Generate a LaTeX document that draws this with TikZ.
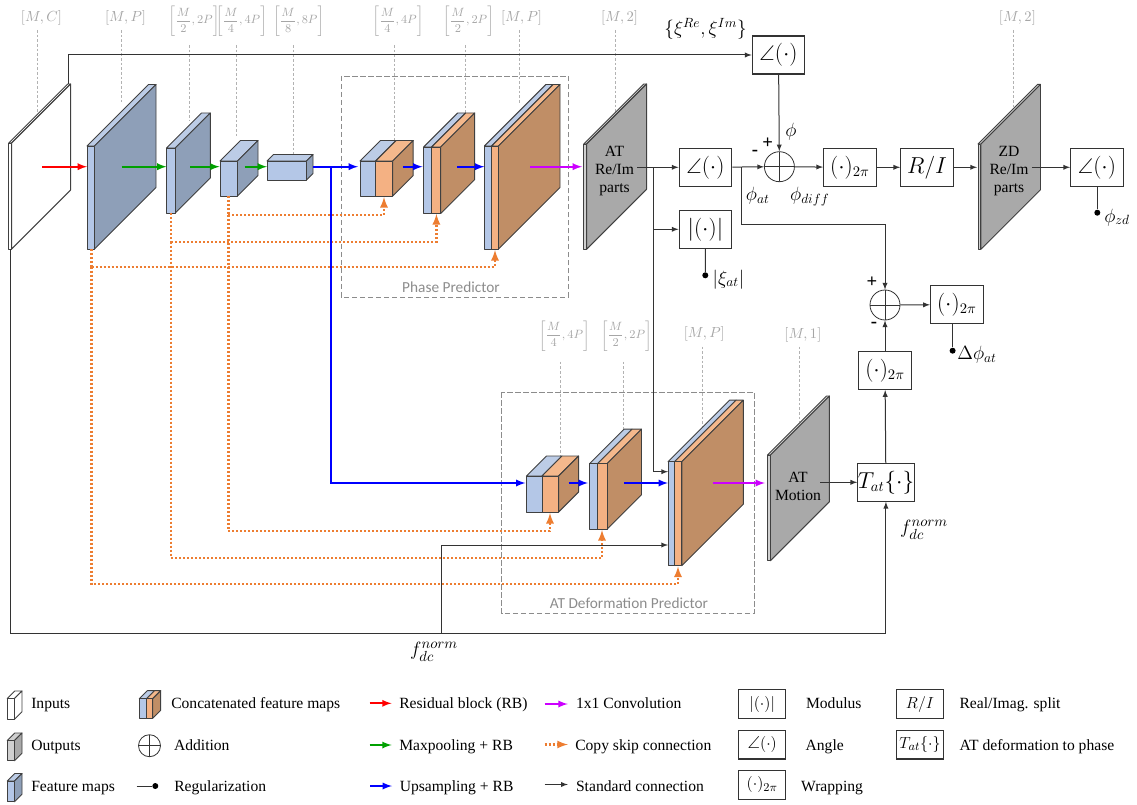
\documentclass[tikz,border=0pt]{standalone}
\usepackage{amsfonts, amssymb, amsmath}
\usepackage{fontspec}
\setmainfont{Liberation Serif}
\newfontfamily\labelfont{Carlito}
\usepackage{tikz}

\definecolor{wiFront}{HTML}{FFFFFF}
\definecolor{wiTop}{HTML}{FFFFFF}
\definecolor{wiSide}{HTML}{FFFFFF}
\definecolor{grFront}{HTML}{D0D0D0}
\definecolor{grTop}{HTML}{D0D0D0}
\definecolor{grSide}{HTML}{A9A9A9}
\definecolor{blFront}{HTML}{B4C7E7}
\definecolor{blTop}{HTML}{BCCCE6}
\definecolor{blSide}{HTML}{8E9FB8}
\definecolor{orFront}{HTML}{F4B183}
\definecolor{orTop}{HTML}{F4B88C}
\definecolor{orSide}{HTML}{C08E66}
\definecolor{skipOrange}{HTML}{ED7D31}
\definecolor{convMagenta}{HTML}{CC00FF}
\definecolor{poolGreen}{HTML}{00A000}

\tikzset{
    mapline/.style={draw=black!75, line width=0.7pt, line join=round},
    leader/.style={draw=black!30, line width=0.5pt, dash pattern=on 2pt off 1.5pt},
    frame/.style={draw=black!45, line width=0.6pt, dash pattern=on 4pt off 2pt},
    resarrow/.style={red, line width=1.4pt, -latex},
    poolarrow/.style={poolGreen, line width=1.4pt, -latex},
    uparrow/.style={blue, line width=1.4pt, -latex},
    convarrow/.style={convMagenta, line width=1.4pt, -latex},
    skiparrow/.style={skipOrange, line width=1.7pt, dash pattern=on 1.5pt off 1.5pt, -latex},
    skipline/.style={skipOrange, line width=1.7pt, dash pattern=on 1.5pt off 1.5pt},
    conn/.style={draw=black!80, line width=0.75pt, -latex},
    plainline/.style={draw=black!80, line width=0.75pt},
    opbox/.style={draw=black!80, fill=white, line width=0.8pt, minimum width=39.5pt, minimum height=28.5pt, inner sep=0pt, font=\fontsize{16}{19}\selectfont},
    legbox/.style={draw=black!80, fill=white, line width=0.8pt, minimum width=35.6pt, minimum height=21.7pt, inner sep=0pt, font=\fontsize{13}{15}\selectfont},
    sumnode/.style={circle, draw=black!80, line width=0.6pt, inner sep=0pt, minimum size=#1,
        path picture={
            \draw[black!80, line width=0.6pt] (path picture bounding box.north) -- (path picture bounding box.south);
            \draw[black!80, line width=0.6pt] (path picture bounding box.west) -- (path picture bounding box.east);
        }},
    regdot/.style={circle, fill=black, minimum size=4.5pt, inner sep=0pt},
    graylabel/.style={text=black!35, inner sep=0pt, font=\fontsize{11}{13}\selectfont},
    fraclabel/.style={text=black!35, inner sep=0pt, font=\fontsize{9.5}{11}\selectfont},
    framelabel/.style={text=black!45, inner sep=0pt, font=\labelfont\fontsize{11.5}{14}\selectfont},
    mathlabel/.style={inner sep=0pt, font=\fontsize{14}{17}\selectfont},
    maptext/.style={align=center, inner sep=0pt, font=\fontsize{11.7}{13.5}\selectfont},
    legtext/.style={anchor=base west, inner sep=0pt, font=\fontsize{11.7}{14}\selectfont},
}

% x1, x2, y1, y2, depth, colour prefix
\newcommand{\fmap}[6]{
    \draw[mapline, fill=#6Top] (#1, #3) -- ({#1+#5}, {#3-#5}) -- ({#2+#5}, {#3-#5}) -- (#2, #3) -- cycle;
    \draw[mapline, fill=#6Side] (#2, #3) -- ({#2+#5}, {#3-#5}) -- ({#2+#5}, {#4-#5}) -- (#2, #4) -- cycle;
    \draw[mapline, fill=#6Front] (#1, #3) rectangle (#2, #4);
}
% x1, xm, x2, y1, y2, depth
\newcommand{\cmap}[6]{
    \draw[mapline, fill=blTop] (#1, #4) -- ({#1+#6}, {#4-#6}) -- ({#2+#6}, {#4-#6}) -- (#2, #4) -- cycle;
    \draw[mapline, fill=orTop] (#2, #4) -- ({#2+#6}, {#4-#6}) -- ({#3+#6}, {#4-#6}) -- (#3, #4) -- cycle;
    \draw[mapline, fill=orSide] (#3, #4) -- ({#3+#6}, {#4-#6}) -- ({#3+#6}, {#5-#6}) -- (#3, #5) -- cycle;
    \draw[mapline, fill=blFront] (#1, #4) rectangle (#2, #5);
    \draw[mapline, fill=orFront] (#2, #4) rectangle (#3, #5);
}

\begin{document}
\begin{tikzpicture}[x=0.75pt, y=-0.75pt]
    \useasboundingbox (0, 0) rectangle (1137, 805);

    % predictor frames
    \draw[frame] (341, 76) rectangle (568.4, 297);
    \draw[frame] (501.8, 392.3) rectangle (754.3, 613.3);
    \node[framelabel] (phaseLabel) at (451, 287) {Phase Predictor};
    \node[framelabel] (deformLabel) at (629, 603.3) {AT Deformation Predictor};

    % size labels and their leaders
    \node[graylabel] (sizeInp) at (41.5, 18) {$[M,C]$};
    \node[graylabel] (sizeEnc1) at (125.5, 18) {$[M,P]$};
    \node[fraclabel] (sizeEnc2) at (194, 21) {$\left[\dfrac{M}{2},2P\right]$};
    \node[fraclabel] (sizeEnc3) at (241.5, 21) {$\left[\dfrac{M}{4},4P\right]$};
    \node[fraclabel] (sizeEnc4) at (298.7, 21) {$\left[\dfrac{M}{8},8P\right]$};
    \node[fraclabel] (sizeDec1) at (398, 21) {$\left[\dfrac{M}{4},4P\right]$};
    \node[fraclabel] (sizeDec2) at (468.5, 21) {$\left[\dfrac{M}{2},2P\right]$};
    \node[graylabel] (sizeDec3) at (521.5, 18) {$[M,P]$};
    \node[graylabel] (sizeOut) at (619.5, 18) {$[M,2]$};
    \node[graylabel] (sizeZd) at (1017.4, 18) {$[M,2]$};
    \node[fraclabel] (sizeDef1) at (564.3, 335.7) {$\left[\dfrac{M}{4},4P\right]$};
    \node[fraclabel] (sizeDef2) at (626.4, 335.7) {$\left[\dfrac{M}{2},2P\right]$};
    \node[graylabel] (sizeDef3) at (704.3, 334) {$[M,P]$};
    \node[graylabel] (sizeMot) at (802.9, 335.3) {$[M,1]$};

    \draw[leader] (37.5, 30) -- (37.5, 112);
    \draw[leader] (121.5, 30) -- (121.5, 102);
    \draw[leader] (189.5, 45) -- (189.5, 120);
    \draw[leader] (236.7, 45) -- (236.7, 138);
    \draw[leader] (293.5, 45) -- (293.5, 154);
    \draw[leader] (394.5, 45) -- (394.5, 140);
    \draw[leader] (465, 45) -- (465, 115);
    \draw[leader] (519, 30) -- (519, 103);
    \draw[leader] (615.6, 30) -- (615.6, 112);
    \draw[leader] (1013.8, 30) -- (1013.8, 107);
    \draw[leader] (560.7, 361.7) -- (560.7, 456);
    \draw[leader] (622.9, 361.7) -- (622.9, 430);
    \draw[leader] (702, 346.7) -- (702, 426.7);
    \draw[leader] (799.6, 346.7) -- (799.6, 421.7);

    % encoder
    \fmap{8.7}{11.6}{143}{249}{59}{wi}
    \fmap{87}{94.5}{146}{249}{61.5}{bl}
    \fmap{166.5}{175.3}{148}{213}{35}{bl}
    \fmap{220}{237.5}{161}{196}{20.5}{bl}
    \fmap{267}{306.5}{161}{180}{6.5}{bl}

    % phase decoder
    \cmap{360}{375.6}{392.7}{161}{196}{20.5}
    \cmap{423.6}{431.6}{440.7}{147}{213.5}{34}
    \cmap{484.4}{491.6}{498.5}{146}{249}{61.5}

    % deformation decoder
    \cmap{526.4}{542}{558.6}{476}{512}{20}
    \cmap{589.6}{597.5}{607}{463.7}{529.3}{34.5}
    \cmap{668}{674.6}{681.8}{461.7}{565.7}{61.5}

    % outputs
    \fmap{583.7}{586.6}{144}{249.3}{60}{gr}
    \fmap{978}{980.9}{144}{249.3}{59.6}{gr}
    \fmap{767.5}{770.4}{455}{560.7}{59}{gr}
    \node[maptext] (outText) at (614.5, 171) {AT\\Re/Im\\parts};
    \node[maptext] (zdText) at (1009, 171) {ZD\\Re/Im\\parts};
    \node[maptext] (motText) at (798, 486) {AT\\Motion};

    % operator boxes
    \node[opbox] (angTop) at (778.5, 55) {$\angle(\cdot)$};
    \node[opbox] (angAt) at (705.4, 167.3) {$\angle(\cdot)$};
    \node[opbox] (absAt) at (705.4, 229.3) {$|(\cdot)|$};
    \node[sumnode=22.5pt] (sumDiff) at (779.4, 166.7) {};
    \node[opbox] (wrapDiff) at (849.9, 167.3) {$(\cdot)_{2\pi}$};
    \node[opbox] (splitRI) at (927, 167.3) {$R/I$};
    \node[opbox] (angZd) at (1096.9, 167.3) {$\angle(\cdot)$};
    \node[sumnode=22.5pt] (sumDelta) at (885, 305) {};
    \node[opbox] (wrapDelta) at (956.8, 304.7) {$(\cdot)_{2\pi}$};
    \node[opbox] (wrapMot) at (885, 370.5) {$(\cdot)_{2\pi}$};
    \node[opbox] (tatBox) at (885.9, 482.3) {$T_{at}\{\cdot\}$};

    % regularization ends
    \node[regdot] (dotAbs) at (705.3, 275.3) {};
    \node[regdot] (dotZd) at (1097.3, 212.7) {};
    \node[regdot] (dotDelta) at (952.6, 350.7) {};

    % math labels
    \node[mathlabel, font=\fontsize{14.5}{18}\selectfont] (xiLabel) at (705.6, 29) {$\{\xi^{Re},\xi^{Im}\}$};
    \node[mathlabel] (phiLabel) at (791, 132) {$\phi$};
    \node[mathlabel] (phiAt) at (757.7, 196) {$\phi_{at}$};
    \node[mathlabel] (phiDiff) at (809.8, 196.7) {$\phi_{diff}$};
    \node[mathlabel] (xiAt) at (728.4, 279.3) {$|\xi_{at}|$};
    \node[mathlabel] (phiZd) at (1117, 217.3) {$\phi_{zd}$};
    \node[mathlabel] (dPhiAt) at (977, 355) {$\Delta\phi_{at}$};
    \node[mathlabel, font=\fontsize{15}{18}\selectfont] (fdcBottom) at (434, 652) {$f_{dc}^{norm}$};
    \node[mathlabel, font=\fontsize{15}{18}\selectfont] (fdcRight) at (924, 530) {$f_{dc}^{norm}$};
    \node[mathlabel] (plusDiff) at (767.8, 143.3) {\textbf{+}};
    \node[mathlabel] (minusDiff) at (755, 152.7) {\textbf{-}};
    \node[mathlabel] (plusDelta) at (872, 282) {\textbf{+}};
    \node[mathlabel] (minusDelta) at (874, 325) {\textbf{-}};

    % end points of the connectors
    \coordinate (redA) at (42, 166.7);
    \coordinate (redB) at (87, 166.7);
    \coordinate (greenA) at (121.5, 166.7);
    \coordinate (greenB) at (166.5, 166.7);
    \coordinate (greenC) at (190, 166.7);
    \coordinate (greenD) at (219.6, 166.7);
    \coordinate (greenE) at (244.7, 166.7);
    \coordinate (greenF) at (267, 166.7);
    \coordinate (blueA) at (312.7, 166.7);
    \coordinate (blueB) at (358, 166.7);
    \coordinate (blueTurn) at (331, 166.7);
    \coordinate (blueC) at (402.5, 166.7);
    \coordinate (blueD) at (422.5, 166.7);
    \coordinate (blueE) at (457, 166.7);
    \coordinate (blueF) at (484.4, 166.7);
    \coordinate (blueG) at (525.4, 483);
    \coordinate (blueH) at (568.6, 483);
    \coordinate (blueI) at (588, 483);
    \coordinate (blueJ) at (624.3, 483);
    \coordinate (blueK) at (668, 483);
    \coordinate (magA) at (530, 166.7);
    \coordinate (magB) at (582, 166.7);
    \coordinate (magC) at (712.9, 483);
    \coordinate (magD) at (765, 483);
    \coordinate (inpTop) at (68.4, 84);
    \coordinate (inpBot) at (10, 249);
    \coordinate (fdcTurn) at (10, 633.7);
    \coordinate (fdcBranch) at (441.4, 633.7);
    \coordinate (defIn) at (668, 545);
    \coordinate (defUp) at (668, 471.7);
    \coordinate (atOut) at (637, 167.3);
    \coordinate (atBranch) at (653.5, 167.3);
    \coordinate (phiBranch) at (741.8, 167.3);
    \coordinate (phiTurn) at (741.8, 224.7);
    \coordinate (riIn) at (977, 167.3);
    \coordinate (zdOut) at (1031.8, 167.3);
    \coordinate (motOut) at (820, 482.3);

    % skip points
    \coordinate (enc1Bot) at (91.6, 249);
    \coordinate (enc2Bot) at (171, 213);
    \coordinate (enc3Bot) at (228.4, 196);
    \coordinate (skip1Turn) at (91.6, 266.7);
    \coordinate (skip2Turn) at (171, 241.7);
    \coordinate (skip3Turn) at (228.4, 215);
    \coordinate (skip1Low) at (91.6, 584);
    \coordinate (skip2Low) at (171, 557.7);
    \coordinate (skip3Low) at (228.4, 531);
    \coordinate (dec1Bot) at (384, 197);
    \coordinate (dec2Bot) at (436.4, 214);
    \coordinate (dec3Bot) at (495, 250);
    \coordinate (def1Bot) at (550, 513);
    \coordinate (def2Bot) at (602, 530);
    \coordinate (def3Bot) at (678, 566.5);

    % skip connections
    \draw[skipline] (enc3Bot) -- (skip3Turn);
    \draw[skiparrow] (skip3Turn) -| (dec1Bot);
    \draw[skiparrow] (skip3Turn) -- (skip3Low) -| (def1Bot);
    \draw[skipline] (enc2Bot) -- (skip2Turn);
    \draw[skiparrow] (skip2Turn) -| (dec2Bot);
    \draw[skiparrow] (skip2Turn) -- (skip2Low) -| (def2Bot);
    \draw[skipline] (enc1Bot) -- (skip1Turn);
    \draw[skiparrow] (skip1Turn) -| (dec3Bot);
    \draw[skiparrow] (skip1Turn) -- (skip1Low) -| (def3Bot);

    % coloured arrows
    \draw[resarrow] (redA) -- (redB);
    \draw[poolarrow] (greenA) -- (greenB);
    \draw[poolarrow] (greenC) -- (greenD);
    \draw[poolarrow] (greenE) -- (greenF);
    \draw[uparrow] (blueA) -- (blueB);
    \draw[uparrow] (blueTurn) |- (blueG);
    \draw[uparrow] (blueC) -- (blueD);
    \draw[uparrow] (blueE) -- (blueF);
    \draw[uparrow] (blueH) -- (blueI);
    \draw[uparrow] (blueJ) -- (blueK);
    \draw[convarrow] (magA) -- (magB);
    \draw[convarrow] (magC) -- (magD);

    % standard connections
    \draw[conn] (inpTop) |- (angTop);
    \draw[conn] (angTop) -- (sumDiff);
    \draw[conn] (atOut) -- (angAt);
    \draw[conn] (atBranch) |- (absAt);
    \draw[conn] (atBranch) |- (defUp);
    \draw[conn] (angAt) -- (sumDiff);
    \draw[conn] (sumDiff) -- (wrapDiff);
    \draw[conn] (wrapDiff) -- (splitRI);
    \draw[conn] (splitRI) -- (riIn);
    \draw[conn] (zdOut) -- (angZd);
    \draw[plainline] (phiBranch) -- (phiTurn);
    \draw[conn] (phiTurn) -| (sumDelta);
    \draw[conn] (sumDelta) -- (wrapDelta);
    \draw[conn] (wrapMot) -- (sumDelta);
    \draw[conn] (tatBox) -- (wrapMot);
    \draw[conn] (motOut) -- (tatBox);
    \draw[plainline] (inpBot) -- (fdcTurn);
    \draw[conn] (fdcTurn) -| (tatBox);
    \draw[conn] (fdcBranch) |- (defIn);

    % regularization
    \draw[plainline] (absAt) -- (dotAbs);
    \draw[plainline] (angZd.south -| dotZd) -- (dotZd);
    \draw[plainline] (wrapDelta.south -| dotDelta) -- (dotDelta);

    % legend, first column
    \fmap{7.3}{14.5}{698.5}{719.3}{7.5}{wi}
    \fmap{7.3}{14.5}{740.5}{760.7}{7.5}{gr}
    \fmap{7.3}{14.5}{781}{801.7}{7.5}{bl}
    \node[legtext] (legInp) at (31, 708.5) {Inputs};
    \node[legtext] (legOut) at (31, 750.5) {Outputs};
    \node[legtext] (legMap) at (31, 791.5) {Feature maps};

    % legend, second column
    \cmap{139.3}{146.5}{152.7}{698.7}{718.3}{8}
    \node[sumnode=16.5pt] (legSum) at (149.5, 745.7) {};
    \node[regdot] (legDot) at (155.3, 786) {};
    \coordinate (legDotA) at (136.7, 786);
    \draw[plainline] (legDotA) -- (legDot);
    \node[legtext] (legCon) at (171, 708.5) {Concatenated feature maps};
    \node[legtext] (legAdd) at (173.8, 750.5) {Addition};
    \node[legtext] (legReg) at (174, 791.5) {Regularization};

    % legend, arrows
    \coordinate (legRedA) at (369.5, 703.3);
    \coordinate (legRedB) at (391.6, 703.3);
    \coordinate (legGreenA) at (369.5, 745);
    \coordinate (legGreenB) at (391.6, 745);
    \coordinate (legBlueA) at (370, 786);
    \coordinate (legBlueB) at (392, 786);
    \coordinate (legMagA) at (544.6, 704);
    \coordinate (legMagB) at (567.8, 704);
    \coordinate (legSkipA) at (544.6, 744.5);
    \coordinate (legSkipB) at (567.8, 744.5);
    \coordinate (legStdA) at (544.6, 784.5);
    \coordinate (legStdB) at (567.8, 784.5);
    \draw[resarrow] (legRedA) -- (legRedB);
    \draw[poolarrow] (legGreenA) -- (legGreenB);
    \draw[uparrow] (legBlueA) -- (legBlueB);
    \draw[convarrow] (legMagA) -- (legMagB);
    \draw[skiparrow] (legSkipA) -- (legSkipB);
    \draw[conn] (legStdA) -- (legStdB);
    \node[legtext] (legRes) at (399, 708.5) {Residual block (RB)};
    \node[legtext] (legPool) at (399, 750.5) {Maxpooling + RB};
    \node[legtext] (legUp) at (399.5, 791.5) {Upsampling + RB};
    \node[legtext] (legConv) at (575.8, 708.5) {1x1 Convolution};
    \node[legtext] (legSkip) at (575, 750.5) {Copy skip connection};
    \node[legtext] (legStd) at (575.8, 791.5) {Standard connection};

    % legend, operators
    \node[legbox] (legAbs) at (762.2, 704) {$|(\cdot)|$};
    \node[legbox] (legAng) at (762.2, 744.5) {$\angle(\cdot)$};
    \node[legbox] (legWrap) at (762.2, 784.8) {$(\cdot)_{2\pi}$};
    \node[legbox] (legRI) at (920, 704) {$R/I$};
    \node[legbox] (legTat) at (920, 744.5) {$T_{at}\{\cdot\}$};
    \node[legtext] (legAbsT) at (805.8, 708.5) {Modulus};
    \node[legtext] (legAngT) at (805.4, 750.5) {Angle};
    \node[legtext] (legWrapT) at (800.9, 791.5) {Wrapping};
    \node[legtext] (legRIT) at (959.3, 708.5) {Real/Imag. split};
    \node[legtext] (legTatT) at (959.3, 750.5) {AT deformation to phase};
\end{tikzpicture}
\end{document}
